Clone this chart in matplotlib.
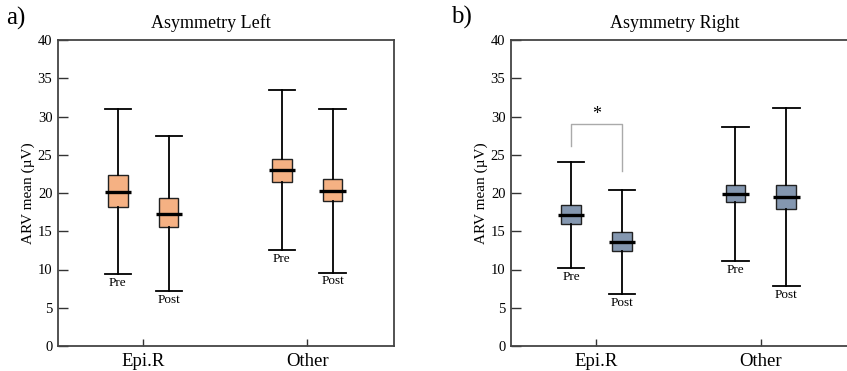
import matplotlib
matplotlib.use("Agg")
import matplotlib.pyplot as plt

plt.rcParams['font.family'] = ['Liberation Serif', 'DejaVu Serif']

groups = ["Epi.R", "Other"]
sessions = ["Pre", "Post"]

# whisker low, q1, median, q3, whisker high  (order: Epi.R Pre, Epi.R Post, Other Pre, Other Post)
left_lo = [9.4, 7.2, 12.5, 9.6]
left_q1 = [18.2, 15.5, 21.5, 18.9]
left_med = [20.1, 17.3, 23.0, 20.3]
left_q3 = [22.3, 19.3, 24.4, 21.8]
left_hi = [31.0, 27.5, 33.4, 31.0]

right_lo = [10.2, 6.8, 11.1, 7.8]
right_q1 = [16.0, 12.4, 18.8, 17.9]
right_med = [17.1, 13.6, 19.9, 19.5]
right_q3 = [18.4, 14.9, 21.1, 21.0]
right_hi = [24.1, 20.4, 28.6, 31.1]

# significance bracket in right panel: Epi.R Pre vs Post
sig_top = 29.0
sig_left_end = 26.1
sig_right_end = 22.9

orange = "#F5B183"
blue = "#8497B0"

fig = plt.figure(figsize=(8.47, 3.71), dpi=100)
W, H = 847, 371


def make_axes(x0, x1, y0=40, y1=346):
    return fig.add_axes([x0 / W, 1 - y1 / H, (x1 - x0) / W, (y1 - y0) / H])


def draw_panel(ax, lo, q1, med, q3, hi, color):
    offs = [-0.155, 0.155]
    pos = []
    labels = []
    for gi in range(len(groups)):
        for si in range(len(sessions)):
            pos.append(gi + 1 + offs[si])
            labels.append(sessions[si])
    stats = []
    for i in range(len(pos)):
        stats.append({"whislo": lo[i], "q1": q1[i], "med": med[i], "q3": q3[i], "whishi": hi[i]})
    ax.bxp(stats, positions=pos, widths=0.12, capwidths=0.16, showfliers=False,
           patch_artist=True,
           boxprops=dict(facecolor=color, edgecolor="#222222", linewidth=1.0),
           whiskerprops=dict(color="black", linewidth=1.3),
           capprops=dict(color="black", linewidth=1.3),
           medianprops=dict(linewidth=0))
    ax.hlines(med, [p - 0.08 for p in pos], [p + 0.08 for p in pos], colors="black", linewidth=2.4, zorder=5)
    for p, l, txt in zip(pos, lo, labels):
        ax.text(p, l - 0.35, txt, ha="center", va="top", fontsize=9.5)

    ax.set_xlim(0.48, 2.53)
    ax.set_ylim(0, 40)
    ax.set_yticks(range(0, 41, 5))
    ax.set_xticks([1, 2])
    ax.set_xticklabels(groups, fontsize=13.5)
    ax.tick_params(axis="y", direction="in", length=7, width=1, labelsize=10.5, pad=4, colors="#333333", labelcolor="black")
    ax.tick_params(axis="x", direction="in", length=5, width=1, pad=5, colors="#333333", labelcolor="black")
    for s in ax.spines.values():
        s.set_color("#444444")
        s.set_linewidth(1.3)
    ax.set_ylabel("ARV mean (µV)", fontsize=11, labelpad=2)


axL = make_axes(58, 394)
draw_panel(axL, left_lo, left_q1, left_med, left_q3, left_hi, orange)

axR = make_axes(511, 848)
draw_panel(axR, right_lo, right_q1, right_med, right_q3, right_hi, blue)

# significance bracket
xp, xq = 1 - 0.155, 1 + 0.155
axR.plot([xp, xp, xq, xq], [sig_left_end, sig_top, sig_top, sig_right_end], color="#AAAAAA", linewidth=1)
axR.text(1, sig_top + 0.2, "*", ha="center", va="bottom", fontsize=13)

fig.text(211 / W, 1 - 23 / H, "Asymmetry Left", ha="center", va="center", fontsize=13)
fig.text(675 / W, 1 - 23 / H, "Asymmetry Right", ha="center", va="center", fontsize=13)
fig.text(6 / W, 1 - 18 / H, "a)", ha="left", va="center", fontsize=18)
fig.text(451 / W, 1 - 17 / H, "b)", ha="left", va="center", fontsize=18)

fig.savefig("out.png", dpi=100)
